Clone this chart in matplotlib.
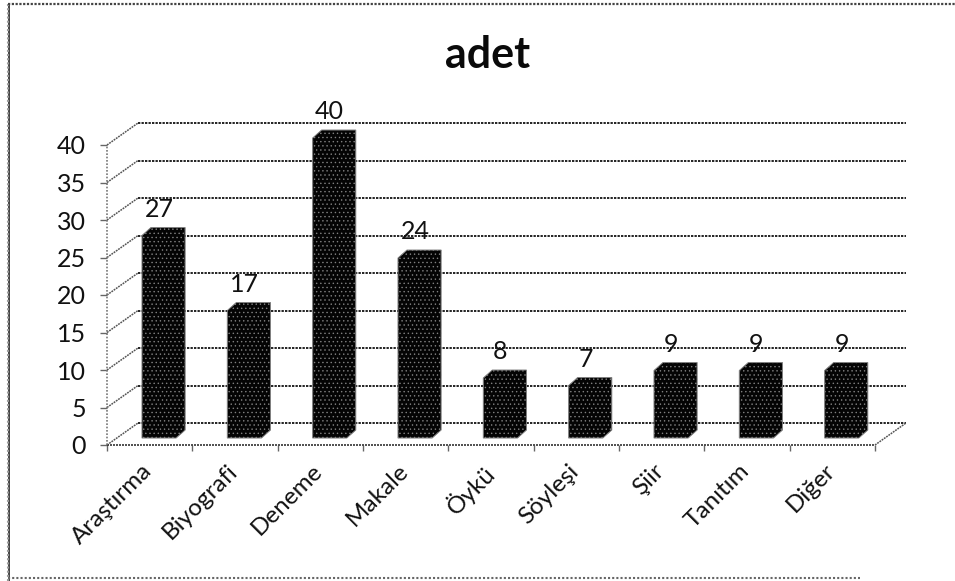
import numpy as np
import matplotlib
matplotlib.use('Agg')
import matplotlib.pyplot as plt
from matplotlib.lines import Line2D

categories=['Araştırma','Biyografi','Deneme','Makale','Öykü','Söyleşi','Şiir','Tanıtım','Diğer']
values=[27,17,40,24,8,7,9,9,9]
yticks=[0,5,10,15,20,25,30,35,40]

plt.rcParams['font.family']=['Lato','DejaVu Sans']
plt.rcParams['hatch.linewidth']=0.5

W,H=955,581
fig=plt.figure(figsize=(W/100,H/100),dpi=100)
# front of the 3d box in pixels: x 107..875, y 445..145
ax=fig.add_axes([107/W,1-445/H,(875-107)/W,300/H])
ax.set_xlim(0,9)
ax.set_ylim(0,40)
ax.patch.set_alpha(0)
for s in ax.spines.values():
    s.set_visible(False)

n=len(categories)
# wall depth and bar depth, data units
wall_dx=31/85.33
wall_dy=22/7.5
bar_dx=9/85.33
bar_dy=8/7.5
bar_w=0.40
bar_left=0.41
bar_bottom=0.93
dark='#040404'
speck='#808080'
grid_ls=(0,(1.2,0.6))

for y in yticks:
    ax.plot([0,wall_dx],[y,y+wall_dy],color='#555555',lw=1.1,ls=grid_ls,clip_on=False,zorder=1)
    ax.plot([wall_dx,9+wall_dx],[y+wall_dy,y+wall_dy],color='#222222',lw=1.4,ls=grid_ls,clip_on=False,zorder=1)
ax.plot([9,9+wall_dx],[0,wall_dy],color='#555555',lw=1.1,ls=grid_ls,clip_on=False,zorder=1)
ax.plot([0,9],[0,0],color='#333333',lw=1.2,ls=grid_ls,clip_on=False,zorder=2)
ax.plot([0,0],[0,40],color='#777777',lw=1.2,ls=(0,(1,1)),clip_on=False,zorder=2)

x=np.arange(n)+bar_left
for xi,v in zip(x,values):
    top=v+bar_bottom
    # outline of front, side and top faces together
    ax.fill([xi,xi,xi+bar_dx,xi+bar_w+bar_dx,xi+bar_w+bar_dx,xi+bar_w],
            [bar_bottom,top,top+bar_dy,top+bar_dy,bar_bottom+bar_dy,bar_bottom],
            facecolor=dark,edgecolor=speck,hatch='....',lw=0.7,zorder=3,clip_on=False)
    ax.text(xi+bar_w/2,top+3.5,str(v),ha='center',va='center',fontsize=18,color='#111111',zorder=5)

ax.set_yticks(yticks)
ax.set_xticks(np.arange(n+1))
ax.set_xticklabels([])
ax.set_xticks(np.arange(n)+0.4,minor=True)
ax.set_xticklabels(categories,minor=True,rotation=45,ha='right',va='top',rotation_mode='anchor',fontsize=17.5,color='#111111')
ax.tick_params(axis='x',which='major',length=4,width=1,color='#666666')
ax.tick_params(axis='x',which='minor',length=0,pad=11)
ax.tick_params(axis='y',length=5,width=1,color='#666666',pad=10,labelsize=18,labelcolor='#111111')

fig.text(488/W,1-55/H,'adet',ha='center',va='center',fontsize=31,fontweight='bold',color='#0a0a0a')

# scanned frame of the chart
fig.add_artist(Line2D(np.array([9,9])/W,1-np.array([4,H])/H,color='#222222',lw=1.2))
fig.add_artist(Line2D(np.array([8,8])/W,1-np.array([4,H])/H,color='#999999',lw=1.5,ls=(0,(1,1))))
fig.add_artist(Line2D(np.array([8,W])/W,1-np.array([4,4])/H,color='#444444',lw=1.6,ls=(0,(1,0.7))))
fig.add_artist(Line2D(np.array([8,860])/W,1-np.array([578,578])/H,color='#666666',lw=1.5,ls=(0,(1,1))))

fig.savefig('out.png',dpi=100)
